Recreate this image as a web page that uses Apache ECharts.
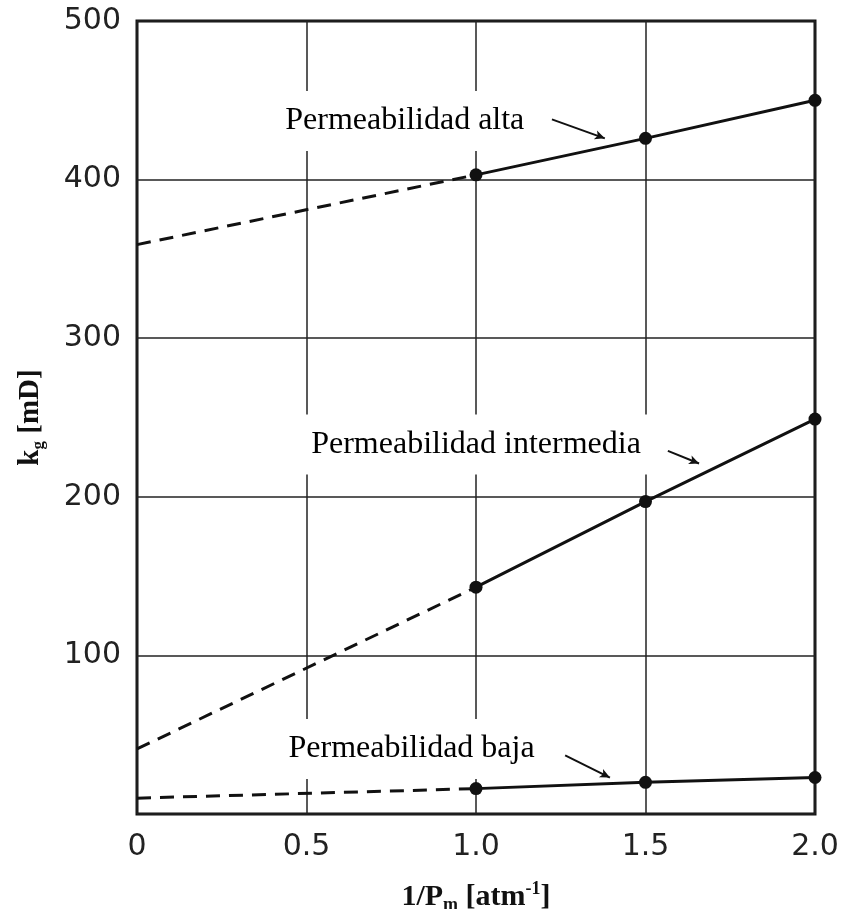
<!DOCTYPE html>
<html>
<head>
<meta charset="utf-8">
<script src="https://cdn.jsdelivr.net/npm/echarts@6/dist/echarts.min.js"></script>
<style>
html,body{margin:0;padding:0;background:#fff;}
#chart{width:845px;height:909px;}
</style>
</head>
<body>
<div id="chart"></div>
<script>
// x values (1/Pm, atm^-1)
const xSolid = [1.0, 1.5, 2.0];
const xDashed = [0, 1.0];
// kg [mD] values
const altaSolid = [403, 426, 450];
const altaDashed = [359, 403];
const interSolid = [143, 197, 249];
const interDashed = [41, 143];
const bajaSolid = [16, 20, 23];
const bajaDashed = [10, 16];
// tick values
const xTicks = [0, 0.5, 1.0, 1.5, 2.0];
const yTicks = [100, 200, 300, 400, 500];
// annotation labels
const labelTexts = ['Permeabilidad alta', 'Permeabilidad intermedia', 'Permeabilidad baja'];
const labelX = [0.79, 1.0, 0.81];
const labelY = [437, 233, 41];
// arrows [[x1,y1],[x2,y2]]
const arrows = [
  [[1.224, 438], [1.38, 426]],
  [[1.566, 229], [1.658, 221]],
  [[1.263, 37], [1.395, 23]]
];

const zip = (xs, ys) => xs.map((x, i) => [x, ys[i]]);

const chart = echarts.init(document.getElementById('chart'));
const solidStyle = {color: '#111', width: 3};
const dashStyle = {color: '#111', width: 3, type: [14, 9]};

function solidSeries(data) {
  return {type: 'line', data: data, z: 3, symbol: 'circle', symbolSize: 13,
    itemStyle: {color: '#111'}, lineStyle: solidStyle, animation: false};
}
function dashedSeries(data) {
  return {type: 'line', data: data, z: 3, symbol: 'none', lineStyle: dashStyle, animation: false};
}

const option = {
  animation: false,
  backgroundColor: '#fff',
  grid: {left: 137, right: 30, top: 21, bottom: 95, show: true, borderColor: '#111', borderWidth: 3,
    backgroundColor: 'transparent', containLabel: false, outerBoundsMode: 'none'},
  xAxis: {
    type: 'value', min: 0, max: 2, interval: 0.5,
    axisLine: {show: false}, axisTick: {show: false},
    splitLine: {show: true, lineStyle: {color: '#222', width: 1.5}},
    axisLabel: {
      margin: 18, color: '#222', fontFamily: 'DejaVu Sans', fontSize: 30,
      formatter: v => xTicks.indexOf(v) < 0 ? '' : (v === 0 ? '0' : v.toFixed(1))
    },
    name: '{b|1/P}{s|m}{b| [atm}{p|-1}{b|]}',
    nameLocation: 'middle', nameGap: 66,
    nameTextStyle: {
      rich: {
        b: {fontFamily: 'Liberation Serif', fontWeight: 'bold', fontSize: 30, color: '#111', lineHeight: 34},
        s: {fontFamily: 'Liberation Serif', fontWeight: 'bold', fontSize: 18, color: '#111', verticalAlign: 'bottom', lineHeight: 34, padding:[12,0,0,0]},
        p: {fontFamily: 'Liberation Serif', fontWeight: 'bold', fontSize: 18, color: '#111', verticalAlign: 'top', lineHeight: 34, padding:[0,0,12,0]}
      }
    }
  },
  yAxis: {
    type: 'value', min: 0, max: 500, interval: 100,
    axisLine: {show: false}, axisTick: {show: false},
    splitLine: {show: true, lineStyle: {color: '#222', width: 1.5}},
    axisLabel: {
      margin: 16, color: '#222', fontFamily: 'DejaVu Sans', fontSize: 30,
      formatter: v => yTicks.indexOf(v) < 0 ? '' : String(v)
    },
    name: '{b|k}{s|g}{b| [mD]}',
    nameLocation: 'middle', nameGap: 90, nameRotate: 90,
    nameTextStyle: {
      rich: {
        b: {fontFamily: 'Liberation Serif', fontWeight: 'bold', fontSize: 29, color: '#111', lineHeight: 32},
        s: {fontFamily: 'Liberation Serif', fontWeight: 'bold', fontSize: 17, color: '#111', verticalAlign: 'bottom', lineHeight: 32, padding:[11,0,0,0]}
      }
    }
  },
  series: [
    dashedSeries(zip(xDashed, altaDashed)),
    solidSeries(zip(xSolid, altaSolid)),
    dashedSeries(zip(xDashed, interDashed)),
    solidSeries(zip(xSolid, interSolid)),
    dashedSeries(zip(xDashed, bajaDashed)),
    solidSeries(zip(xSolid, bajaSolid)),
    {
      type: 'scatter', z: 1, symbolSize: 0, silent: true,
      itemStyle: {opacity: 1, color: '#fff'},
      data: labelTexts.map((t, i) => [labelX[i], labelY[i], t]),
      label: {
        show: true, position: 'inside', opacity: 1,
        formatter: p => p.data[2],
        fontFamily: 'Liberation Serif', fontSize: 32, color: '#000',
        backgroundColor: '#fff', padding: [14, 10, 14, 10]
      }
    },
    {
      type: 'line', data: [], z: 3,
      markLine: {
        silent: true, animation: false,
        symbol: ['none', 'arrow'], symbolSize: [7, 10],
        label: {show: false},
        lineStyle: {color: '#111', width: 2, type: 'solid', curveness: 0.35},
        data: arrows.map(a => [{coord: a[0]}, {coord: a[1]}])
      }
    }
  ]
};
chart.setOption(option);
</script>
</body>
</html>
